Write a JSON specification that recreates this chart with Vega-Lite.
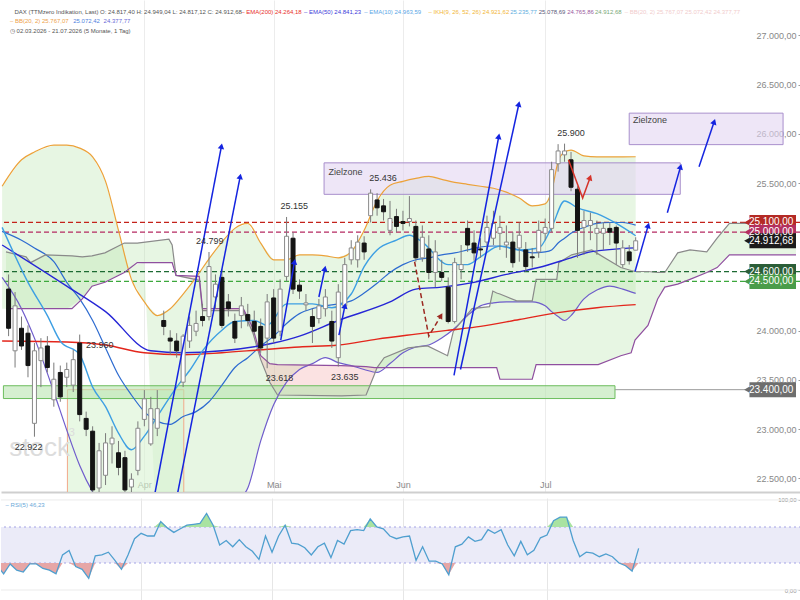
{
  "$schema": "https://vega.github.io/schema/vega-lite/v6.json",
  "padding": 0,
  "spacing": 4,
  "background": "#ffffff",
  "config": {
    "view": {"stroke": null},
    "font": "Liberation Sans",
    "locale": {"number": {"decimal": ",", "thousands": ".", "grouping": [3], "currency": ["", " €"]}}
  },
  "resolve": {"scale": {"x": "independent", "y": "independent"}},
  "datasets": {
    "candles": [
      {"i":1,"o":24422,"h":24571,"l":23944,"c":24024},
      {"i":2,"o":23795,"h":24392,"l":23625,"c":24252},
      {"i":3,"o":24024,"h":24143,"l":23804,"c":23844},
      {"i":4,"o":23974,"h":24053,"l":23526,"c":23645},
      {"i":5,"o":23058,"h":23874,"l":22922,"c":23795},
      {"i":6,"o":23695,"h":23924,"l":23426,"c":23824},
      {"i":7,"o":23844,"h":23944,"l":23575,"c":23625},
      {"i":8,"o":23297,"h":23675,"l":23227,"c":23506},
      {"i":9,"o":23575,"h":23645,"l":23277,"c":23327},
      {"i":10,"o":23526,"h":23675,"l":23426,"c":23605},
      {"i":11,"o":23446,"h":23805,"l":23376,"c":23705},
      {"i":12,"o":23874,"h":23960,"l":23078,"c":23147},
      {"i":13,"o":23108,"h":23177,"l":22928,"c":22998},
      {"i":14,"o":22978,"h":23028,"l":22331,"c":22381},
      {"i":15,"o":22401,"h":22859,"l":22331,"c":22779},
      {"i":16,"o":22530,"h":22958,"l":22431,"c":22859},
      {"i":17,"o":22849,"h":23028,"l":22650,"c":22908},
      {"i":18,"o":22759,"h":22879,"l":22530,"c":22610},
      {"i":19,"o":22709,"h":22779,"l":22331,"c":22381},
      {"i":20,"o":22411,"h":22550,"l":22331,"c":22490},
      {"i":21,"o":22580,"h":23078,"l":22530,"c":23008},
      {"i":22,"o":23098,"h":23396,"l":23028,"c":23307},
      {"i":23,"o":22849,"h":23327,"l":22830,"c":23207},
      {"i":24,"o":23008,"h":23396,"l":22928,"c":23207},
      {"i":25,"o":24103,"h":24203,"l":23954,"c":24043},
      {"i":26,"o":23924,"h":24004,"l":23755,"c":23894},
      {"i":27,"o":23894,"h":23974,"l":23725,"c":23795},
      {"i":28,"o":23476,"h":23964,"l":23426,"c":23944},
      {"i":29,"o":23894,"h":24143,"l":23824,"c":24053},
      {"i":30,"o":23994,"h":24203,"l":23944,"c":24073},
      {"i":31,"o":24143,"h":24272,"l":24043,"c":24103},
      {"i":32,"o":24143,"h":24799,"l":24103,"c":24651},
      {"i":33,"o":24342,"h":24571,"l":24223,"c":24472},
      {"i":34,"o":24541,"h":24621,"l":24024,"c":24053},
      {"i":35,"o":24292,"h":24372,"l":24143,"c":24223},
      {"i":36,"o":24093,"h":24173,"l":23874,"c":23924},
      {"i":37,"o":24153,"h":24342,"l":24024,"c":24252},
      {"i":38,"o":24163,"h":24272,"l":24043,"c":24103},
      {"i":39,"o":24093,"h":24203,"l":23954,"c":23994},
      {"i":40,"o":24043,"h":24123,"l":23775,"c":23824},
      {"i":41,"o":23924,"h":24372,"l":23618,"c":24292},
      {"i":42,"o":24332,"h":24422,"l":23874,"c":23924},
      {"i":43,"o":23994,"h":24521,"l":23944,"c":24422},
      {"i":44,"o":24551,"h":25155,"l":24501,"c":24959},
      {"i":45,"o":24939,"h":25000,"l":24372,"c":24422},
      {"i":46,"o":24462,"h":24521,"l":24322,"c":24402},
      {"i":47,"o":24262,"h":24372,"l":24203,"c":24282},
      {"i":48,"o":24143,"h":24223,"l":23874,"c":24043},
      {"i":49,"o":24123,"h":24322,"l":24073,"c":24252},
      {"i":50,"o":24223,"h":24422,"l":24143,"c":24342},
      {"i":51,"o":24093,"h":24203,"l":23824,"c":23894},
      {"i":52,"o":23725,"h":24472,"l":23635,"c":24392},
      {"i":53,"o":24252,"h":24740,"l":24223,"c":24671},
      {"i":54,"o":24720,"h":24919,"l":24671,"c":24840},
      {"i":55,"o":24720,"h":24969,"l":24641,"c":24900},
      {"i":56,"o":24890,"h":24959,"l":24720,"c":24800},
      {"i":57,"o":25168,"h":25436,"l":25099,"c":25397},
      {"i":58,"o":25328,"h":25397,"l":25168,"c":25248},
      {"i":59,"o":25268,"h":25338,"l":25119,"c":25208},
      {"i":60,"o":25019,"h":25318,"l":24969,"c":25139},
      {"i":61,"o":25159,"h":25238,"l":25000,"c":25059},
      {"i":62,"o":25109,"h":25218,"l":25019,"c":25089},
      {"i":63,"o":25109,"h":25367,"l":25059,"c":25139},
      {"i":64,"o":25059,"h":25119,"l":24700,"c":24740},
      {"i":65,"o":24740,"h":25069,"l":24700,"c":24949},
      {"i":66,"o":24830,"h":24969,"l":24521,"c":24591},
      {"i":67,"o":24591,"h":24919,"l":24442,"c":24800},
      {"i":68,"o":24591,"h":24720,"l":24501,"c":24541},
      {"i":69,"o":24442,"h":24541,"l":24073,"c":24093},
      {"i":70,"o":24093,"h":24740,"l":24073,"c":24691},
      {"i":71,"o":24621,"h":24870,"l":24521,"c":24671},
      {"i":72,"o":25039,"h":25119,"l":24800,"c":24870},
      {"i":73,"o":24890,"h":25019,"l":24710,"c":24790},
      {"i":74,"o":24830,"h":24939,"l":24740,"c":24820},
      {"i":75,"o":24900,"h":25168,"l":24820,"c":25049},
      {"i":76,"o":24939,"h":25218,"l":24870,"c":25089},
      {"i":77,"o":24989,"h":25168,"l":24820,"c":25049},
      {"i":78,"o":24870,"h":25069,"l":24740,"c":24900},
      {"i":79,"o":24900,"h":25000,"l":24641,"c":24691},
      {"i":80,"o":24840,"h":25099,"l":24700,"c":24969},
      {"i":81,"o":24820,"h":24900,"l":24601,"c":24651},
      {"i":82,"o":24750,"h":24840,"l":24641,"c":24740},
      {"i":83,"o":24800,"h":25119,"l":24740,"c":25019},
      {"i":84,"o":24989,"h":25139,"l":24919,"c":25049},
      {"i":85,"o":25039,"h":25716,"l":25000,"c":25636},
      {"i":86,"o":25696,"h":25895,"l":25616,"c":25826},
      {"i":87,"o":25786,"h":25900,"l":25716,"c":25826},
      {"i":88,"o":25736,"h":25816,"l":25417,"c":25457},
      {"i":89,"o":25437,"h":25467,"l":24740,"c":25019},
      {"i":90,"o":25049,"h":25218,"l":24770,"c":25119},
      {"i":91,"o":25069,"h":25199,"l":24919,"c":25119},
      {"i":92,"o":24989,"h":25119,"l":24770,"c":25039},
      {"i":93,"o":24989,"h":25099,"l":24820,"c":25039},
      {"i":94,"o":25039,"h":25099,"l":24870,"c":25000},
      {"i":95,"o":25049,"h":25069,"l":24671,"c":24890},
      {"i":96,"o":24671,"h":24919,"l":24641,"c":24840},
      {"i":97,"o":24800,"h":24870,"l":24671,"c":24710},
      {"i":98,"o":24817.40,"h":24949.04,"l":24817.12,"c":24912.68}
    ],
    "rsi": [
      {"i":0,"r":27},{"i":1,"r":18},{"i":2,"r":29},{"i":3,"r":22},{"i":4,"r":20},{"i":5,"r":29},{"i":6,"r":29},{"i":7,"r":24},{"i":8,"r":22},{"i":9,"r":18},
      {"i":10,"r":39},{"i":11,"r":44},{"i":12,"r":26},{"i":13,"r":23},{"i":14,"r":13},{"i":15,"r":38},{"i":16,"r":39},{"i":17,"r":42},{"i":18,"r":33},{"i":19,"r":23},
      {"i":20,"r":39},{"i":21,"r":57},{"i":22,"r":63},{"i":23,"r":60},{"i":24,"r":60},{"i":25,"r":76},{"i":26,"r":69},{"i":27,"r":64},{"i":28,"r":68},{"i":29,"r":72},
      {"i":30,"r":73},{"i":31,"r":74},{"i":32,"r":85},{"i":33,"r":72},{"i":34,"r":50},{"i":35,"r":55},{"i":36,"r":48},{"i":37,"r":56},{"i":38,"r":48},{"i":39,"r":43},
      {"i":40,"r":34},{"i":41,"r":60},{"i":42,"r":42},{"i":43,"r":60},{"i":44,"r":72},{"i":45,"r":52},{"i":46,"r":51},{"i":47,"r":47},{"i":48,"r":39},{"i":49,"r":48},
      {"i":50,"r":52},{"i":51,"r":36},{"i":52,"r":55},{"i":53,"r":51},{"i":54,"r":66},{"i":55,"r":67},{"i":56,"r":66},{"i":57,"r":79},{"i":58,"r":70},{"i":59,"r":68},
      {"i":60,"r":60},{"i":61,"r":57},{"i":62,"r":59},{"i":63,"r":60},{"i":64,"r":33},{"i":65,"r":48},{"i":66,"r":32},{"i":67,"r":32},{"i":68,"r":29},{"i":69,"r":17},
      {"i":70,"r":48},{"i":71,"r":51},{"i":72,"r":59},{"i":73,"r":54},{"i":74,"r":56},{"i":75,"r":67},{"i":76,"r":63},{"i":77,"r":67},{"i":78,"r":50},{"i":79,"r":38},
      {"i":80,"r":54},{"i":81,"r":39},{"i":82,"r":44},{"i":83,"r":58},{"i":84,"r":61},{"i":85,"r":77},{"i":86,"r":81},{"i":87,"r":81},{"i":88,"r":55},{"i":89,"r":37},
      {"i":90,"r":42},{"i":91,"r":41},{"i":92,"r":37},{"i":93,"r":40},{"i":94,"r":37},{"i":95,"r":30},{"i":96,"r":27},{"i":97,"r":21},{"i":98,"r":46.23}
    ],
    "ema": [
      {"s":"e200","i":0,"v":23894},{"s":"e200","i":10,"v":23884},{"s":"e200","i":16,"v":23854},{"s":"e200","i":22,"v":23775},{"s":"e200","i":28,"v":23755},{"s":"e200","i":34,"v":23775},{"s":"e200","i":40,"v":23805},{"s":"e200","i":46,"v":23834},{"s":"e200","i":52,"v":23854},{"s":"e200","i":58,"v":23914},{"s":"e200","i":64,"v":23964},{"s":"e200","i":69,"v":24004},{"s":"e200","i":74,"v":24043},{"s":"e200","i":80,"v":24113},{"s":"e200","i":86,"v":24183},{"s":"e200","i":92,"v":24233},{"s":"e200","i":98,"v":24264},
      {"s":"e50","i":0,"v":24870},{"s":"e50","i":10,"v":24452},{"s":"e50","i":16,"v":24193},{"s":"e50","i":23,"v":23795},{"s":"e50","i":28,"v":23775},{"s":"e50","i":34,"v":23795},{"s":"e50","i":42,"v":23874},{"s":"e50","i":46,"v":23944},{"s":"e50","i":52,"v":24103},{"s":"e50","i":60,"v":24292},{"s":"e50","i":64,"v":24422},{"s":"e50","i":68,"v":24442},{"s":"e50","i":73,"v":24491},{"s":"e50","i":78,"v":24571},{"s":"e50","i":83,"v":24641},{"s":"e50","i":88,"v":24740},{"s":"e50","i":91,"v":24800},{"s":"e50","i":98,"v":24841},
      {"s":"e10","i":0,"v":25049},{"s":"e10","i":4,"v":24491},{"s":"e10","i":7,"v":24153},{"s":"e10","i":9,"v":23894},{"s":"e10","i":12,"v":23755},{"s":"e10","i":14,"v":23426},{"s":"e10","i":16,"v":23227},{"s":"e10","i":18,"v":22958},{"s":"e10","i":20,"v":22789},{"s":"e10","i":22,"v":22928},{"s":"e10","i":24,"v":23127},{"s":"e10","i":27,"v":23426},{"s":"e10","i":29,"v":23595},{"s":"e10","i":31,"v":23795},{"s":"e10","i":34,"v":24004},{"s":"e10","i":36,"v":24093},{"s":"e10","i":39,"v":24103},{"s":"e10","i":41,"v":24053},{"s":"e10","i":44,"v":24272},{"s":"e10","i":48,"v":24272},{"s":"e10","i":51,"v":24233},{"s":"e10","i":54,"v":24372},{"s":"e10","i":56,"v":24651},{"s":"e10","i":58,"v":24820},{"s":"e10","i":61,"v":24919},{"s":"e10","i":63,"v":24969},{"s":"e10","i":65,"v":24900},{"s":"e10","i":69,"v":24671},{"s":"e10","i":72,"v":24671},{"s":"e10","i":74,"v":24750},{"s":"e10","i":77,"v":24860},{"s":"e10","i":80,"v":24820},{"s":"e10","i":83,"v":24840},{"s":"e10","i":85,"v":25049},{"s":"e10","i":87,"v":25318},{"s":"e10","i":89,"v":25248},{"s":"e10","i":92,"v":25188},{"s":"e10","i":95,"v":25089},{"s":"e10","i":98,"v":24964}
    ],
    "bb": [
      {"i":0,"u":25467,"m":25009,"l":24541,"fl":24223},
      {"i":3,"u":25736,"m":24919,"l":24223,"fl":24223},
      {"i":5,"u":25815,"m":24840,"l":23924,"fl":24223},
      {"i":8,"u":25885,"m":24700,"l":23377,"fl":24223},
      {"i":10,"u":25885,"m":24491,"l":22989,"fl":24223},
      {"i":12,"u":25855,"m":24322,"l":22630,"fl":24312},
      {"i":14,"u":25766,"m":24103,"l":22361,"fl":24452},
      {"i":16,"u":25517,"m":23824,"l":22172,"fl":24491},
      {"i":18,"u":25019,"m":23546,"l":21982,"fl":24561},
      {"i":20,"u":24521,"m":23346,"l":21883,"fl":24661},
      {"i":22,"u":24292,"m":23177,"l":21813,"fl":24691},
      {"i":24,"u":24153,"m":23078,"l":21734,"fl":21734},
      {"i":26,"u":24223,"m":23048,"l":21763,"fl":21763},
      {"i":28,"u":24372,"m":23127,"l":21803,"fl":21803},
      {"i":30,"u":24541,"m":23177,"l":21853,"fl":21853},
      {"i":32,"u":24730,"m":23277,"l":21923,"fl":21923},
      {"i":34,"u":24900,"m":23446,"l":22082,"fl":22082},
      {"i":36,"u":25039,"m":23625,"l":22251,"fl":22251},
      {"i":38,"u":25089,"m":23725,"l":22401,"fl":22401},
      {"i":40,"u":24890,"m":23844,"l":22879,"fl":22879},
      {"i":42,"u":24720,"m":23944,"l":23247,"fl":23247},
      {"i":44,"u":24720,"m":24073,"l":23476,"fl":23476},
      {"i":46,"u":24770,"m":24173,"l":23605,"fl":23605},
      {"i":48,"u":24770,"m":24223,"l":23665,"fl":23665},
      {"i":50,"u":24760,"m":24252,"l":23725,"fl":23725},
      {"i":52,"u":24740,"m":24272,"l":23675,"fl":23675},
      {"i":54,"u":24800,"m":24302,"l":23645,"fl":23645},
      {"i":56,"u":25019,"m":24382,"l":23605,"fl":23605},
      {"i":58,"u":25318,"m":24481,"l":23575,"fl":23575},
      {"i":60,"u":25477,"m":24591,"l":23665,"fl":23665},
      {"i":62,"u":25517,"m":24671,"l":23775,"fl":23775},
      {"i":64,"u":25547,"m":24720,"l":23834,"fl":23834},
      {"i":66,"u":25567,"m":24740,"l":23854,"fl":23854},
      {"i":68,"u":25537,"m":24770,"l":23924,"fl":23924},
      {"i":70,"u":25507,"m":24790,"l":24024,"fl":24024},
      {"i":72,"u":25487,"m":24820,"l":24153,"fl":24153},
      {"i":74,"u":25467,"m":24850,"l":24252,"fl":24252},
      {"i":76,"u":25447,"m":24860,"l":24282,"fl":24282},
      {"i":78,"u":25407,"m":24850,"l":24292,"fl":24292},
      {"i":80,"u":25348,"m":24820,"l":24292,"fl":24292},
      {"i":82,"u":25268,"m":24790,"l":24292,"fl":24292},
      {"i":84,"u":25288,"m":24800,"l":24252,"fl":24252},
      {"i":85,"u":25417,"m":24820,"l":24193,"fl":24193},
      {"i":86,"u":25716,"m":24890,"l":24143,"fl":24143},
      {"i":87,"u":25815,"m":24939,"l":24103,"fl":24103},
      {"i":88,"u":25835,"m":24989,"l":24153,"fl":24153},
      {"i":90,"u":25776,"m":25049,"l":24322,"fl":24322},
      {"i":92,"u":25766,"m":25089,"l":24412,"fl":24412},
      {"i":94,"u":25766,"m":25099,"l":24452,"fl":24452},
      {"i":96,"u":25766,"m":25099,"l":24422,"fl":24422},
      {"i":98,"u":25767,"m":25072,"l":24378,"fl":24378}
    ],
    "cloud": [
      {"s":"g1","c":"g","i":0.6,"a":24800,"b":24223},
      {"s":"g1","c":"g","i":3.7,"a":24750,"b":24223},
      {"s":"g1","c":"g","i":4.4,"a":24691,"b":24223},
      {"s":"g1","c":"g","i":6.7,"a":24770,"b":24223},
      {"s":"g1","c":"g","i":10.8,"a":24760,"b":24223},
      {"s":"g1","c":"g","i":12.4,"a":24750,"b":24322},
      {"s":"g1","c":"g","i":13.9,"a":24760,"b":24452},
      {"s":"g1","c":"g","i":15.9,"a":24790,"b":24491},
      {"s":"g1","c":"g","i":18.9,"a":24890,"b":24591},
      {"s":"g1","c":"g","i":20.9,"a":24890,"b":24691},
      {"s":"g1","c":"g","i":25.8,"a":24929,"b":24691},
      {"s":"g1","c":"g","i":26.3,"a":24870,"b":24691},
      {"s":"g1","c":"g","i":26.9,"a":24561,"b":24561},
      {"s":"r1","c":"r","i":26.9,"a":24561,"b":24561},
      {"s":"r1","c":"r","i":30.5,"a":24511,"b":24551},
      {"s":"r1","c":"r","i":31,"a":24203,"b":24223},
      {"s":"r1","c":"r","i":37.3,"a":24203,"b":24223},
      {"s":"r1","c":"r","i":38.8,"a":23974,"b":24024},
      {"s":"r1","c":"r","i":40,"a":23705,"b":23745},
      {"s":"r1","c":"r","i":41.4,"a":23476,"b":23665},
      {"s":"r1","c":"r","i":42.6,"a":23346,"b":23655},
      {"s":"r1","c":"r","i":52.5,"a":23336,"b":23645},
      {"s":"r1","c":"r","i":56.3,"a":23346,"b":23635},
      {"s":"r1","c":"r","i":57.6,"a":23556,"b":23625},
      {"s":"r1","c":"r","i":58,"a":23625,"b":23625},
      {"s":"g2","c":"g","i":58,"a":23625,"b":23625},
      {"s":"g2","c":"g","i":59.1,"a":23725,"b":23625},
      {"s":"g2","c":"g","i":62.8,"a":23824,"b":23625},
      {"s":"g2","c":"g","i":65.8,"a":23844,"b":23625},
      {"s":"g2","c":"g","i":68.9,"a":23745,"b":23625},
      {"s":"g2","c":"g","i":69.8,"a":23994,"b":23625},
      {"s":"g2","c":"g","i":72.7,"a":24223,"b":23625},
      {"s":"g2","c":"g","i":75.4,"a":24243,"b":23625},
      {"s":"g2","c":"g","i":75.9,"a":24402,"b":23625},
      {"s":"g2","c":"g","i":76.5,"a":24382,"b":23625},
      {"s":"g2","c":"g","i":77,"a":24372,"b":23506},
      {"s":"g2","c":"g","i":79.6,"a":24302,"b":23506},
      {"s":"g2","c":"g","i":82,"a":24302,"b":23506},
      {"s":"g2","c":"g","i":82.6,"a":24521,"b":23655},
      {"s":"g2","c":"g","i":85.8,"a":24521,"b":23655},
      {"s":"g2","c":"g","i":86.1,"a":24691,"b":23655},
      {"s":"g2","c":"g","i":88.1,"a":24770,"b":23655},
      {"s":"g2","c":"g","i":91.2,"a":24820,"b":23655},
      {"s":"g2","c":"g","i":92.2,"a":24780,"b":23655},
      {"s":"g2","c":"g","i":95.7,"a":24641,"b":23745},
      {"s":"g2","c":"g","i":97.3,"a":24611,"b":23775},
      {"s":"g2","c":"g","i":97.9,"a":24601,"b":23904},
      {"s":"g2","c":"g","i":99.9,"a":24601,"b":24053},
      {"s":"g2","c":"g","i":101.4,"a":24591,"b":24322},
      {"s":"g2","c":"g","i":102.5,"a":24591,"b":24442},
      {"s":"g2","c":"g","i":104.5,"a":24790,"b":24472},
      {"s":"g2","c":"g","i":106.4,"a":24820,"b":24521},
      {"s":"g2","c":"g","i":109,"a":24800,"b":24591},
      {"s":"g2","c":"g","i":110.6,"a":24939,"b":24641},
      {"s":"g2","c":"g","i":112.5,"a":25090,"b":24770},
      {"s":"g2","c":"g","i":122.8,"a":25090,"b":24770}
    ],
    "lv": [{"k":"a","v":25100},{"k":"b","v":25000},{"k":"c","v":24600},{"k":"d","v":24500}],
    "tags": [{"k":"a","v":25100},{"k":"b","v":25000},{"k":"e","v":24912.68},{"k":"c","v":24600},{"k":"d","v":24500},{"k":"f","v":23400}],
    "zones": [
      {"k":"box","i0":10.1,"i1":28.1,"p0":22000,"p1":23400},
      {"k":"sup","i0":0.2,"i1":94.8,"p0":23310,"p1":23440},
      {"k":"z1","i0":49.8,"i1":104.9,"p0":25385,"p1":25705},
      {"k":"z2","i0":97,"i1":120.8,"p0":25890,"p1":26210}
    ],
    "arrows": [
      {"a":"a1","k":"b","i":23.5,"p":22300},{"a":"a1","k":"b","i":33.9,"p":25865},
      {"a":"a2","k":"b","i":27,"p":22300},{"a":"a2","k":"b","i":36.8,"p":25557},
      {"a":"a3","k":"b","i":43.1,"p":23904},{"a":"a3","k":"b","i":45.2,"p":24691},
      {"a":"a4","k":"b","i":49,"p":24342},{"a":"a4","k":"b","i":49.9,"p":24621},
      {"a":"a5","k":"b","i":52.1,"p":23954},{"a":"a5","k":"b","i":53,"p":24243},
      {"a":"a6","k":"b","i":69.9,"p":23546},{"a":"a6","k":"b","i":76.8,"p":25965},
      {"a":"a7","k":"b","i":70.9,"p":23605},{"a":"a7","k":"b","i":79.9,"p":26293},
      {"a":"a8","k":"b","i":102.9,"p":25198},{"a":"a8","k":"b","i":104.9,"p":25656},
      {"a":"a9","k":"b","i":107.8,"p":25666},{"a":"a9","k":"b","i":110.1,"p":26114},
      {"a":"a10","k":"b","i":97.9,"p":24601},{"a":"a10","k":"b","i":99.9,"p":25059},
      {"a":"d1","k":"d","i":63.8,"p":24700},{"a":"d1","k":"d","i":66,"p":23944},{"a":"d1","k":"d","i":67.8,"p":24143},
      {"a":"r1","k":"r","i":87.6,"p":25736},{"a":"r1","k":"r","i":89.8,"p":25348},{"a":"r1","k":"r","i":90.9,"p":25547}
    ],
    "heads": [
      {"k":"b","i":33.9,"p":25865,"ang":10.8},
      {"k":"b","i":36.8,"p":25557,"ang":11.1},
      {"k":"b","i":45.2,"p":24691,"ang":10},
      {"k":"b","i":49.9,"p":24621,"ang":12},
      {"k":"b","i":53,"p":24243,"ang":11.7},
      {"k":"b","i":76.8,"p":25965,"ang":10.5},
      {"k":"b","i":79.9,"p":26293,"ang":12.3},
      {"k":"b","i":104.9,"p":25656,"ang":15.8},
      {"k":"b","i":110.1,"p":26114,"ang":18.4},
      {"k":"b","i":99.9,"p":25059,"ang":15.8},
      {"k":"d","i":67.8,"p":24143,"ang":31},
      {"k":"r","i":90.9,"p":25547,"ang":19.3}
    ],
    "hi": [{"i":32.1,"v":24799},{"i":45.2,"v":25155},{"i":58.9,"v":25436},{"i":88,"v":25900}],
    "lo": [{"i":4.1,"v":22922},{"i":15.1,"v":23960},{"i":42.9,"v":23618},{"i":53,"v":23635}]
  },
  "vconcat": [
    {
      "width": 800,
      "height": 492,
      "resolve": {"scale": {"color": "independent", "fill": "independent", "stroke": "independent", "angle": "independent"}},
      "layer": [
        {
          "data": {"name": "bb"},
          "mark": {"type": "area", "color": "#b5e3a8", "opacity": 0.32, "clip": true},
          "encoding": {
            "x": {"field": "i", "type": "quantitative",
              "scale": {"domain": [0.6, 122.8], "nice": false, "zero": false},
              "axis": {"values": [22, 42, 62, 84], "labelExpr": "datum.value == 22 ? 'Apr' : datum.value == 42 ? 'Mai' : datum.value == 62 ? 'Jun' : 'Jul'", "title": null, "grid": true, "gridColor": "#ececec", "ticks": false, "tickSize": 0, "labelPadding": -12, "labelFontSize": 9, "labelColor": "#888888", "domainColor": "#cfcfcf", "domainWidth": 2, "labelFlush": false}},
            "y": {"field": "u", "type": "quantitative",
              "scale": {"domain": [22411, 27309], "nice": false, "zero": false},
              "axis": {"orient": "left", "offset": -800, "values": [22500, 23000, 23500, 24000, 25500, 26000, 26500, 27000], "format": ",.2f", "title": null, "grid": false, "domain": false, "tickSize": 3, "tickColor": "#999999", "labelPadding": 2, "labelFontSize": 9, "labelColor": "#888888"}},
            "y2": {"field": "fl"}
          }
        },
        {
          "data": {"name": "cloud"},
          "mark": {"type": "area", "opacity": 0.32, "clip": true},
          "encoding": {
            "x": {"field": "i", "type": "quantitative"},
            "y": {"field": "a", "type": "quantitative"},
            "y2": {"field": "b"},
            "color": {"field": "c", "type": "nominal", "scale": {"domain": ["g", "r"], "range": ["#b5e3a8", "#f2a6a6"]}, "legend": null},
            "detail": {"field": "s"}
          }
        },
        {
          "data": {"name": "zones"},
          "mark": {"type": "rect", "fillOpacity": 0.6, "strokeWidth": 1, "clip": true},
          "encoding": {
            "x": {"field": "i0", "type": "quantitative"},
            "x2": {"field": "i1"},
            "y": {"field": "p0", "type": "quantitative"},
            "y2": {"field": "p1"},
            "fill": {"field": "k", "type": "nominal", "scale": {"domain": ["box", "sup", "z1", "z2"], "range": ["#d9f3d2", "#b9e4b0", "#e3d5f1", "#e3d5f1"]}, "legend": null},
            "stroke": {"field": "k", "type": "nominal", "scale": {"domain": ["box", "sup", "z1", "z2"], "range": ["#f2a98a", "#6cbd5d", "#a88fcc", "#a88fcc"]}, "legend": null}
          }
        },
        {
          "data": {"values": [{}]},
          "mark": {"type": "text", "text": "stock", "align": "left", "baseline": "alphabetic", "fontSize": 26, "color": "#dcdcdc"},
          "encoding": {"x": {"datum": 1.1}, "y": {"datum": 22729}}
        },
        {
          "data": {"values": [{}]},
          "mark": {"type": "text", "text": "3", "align": "left", "baseline": "alphabetic", "fontSize": 11, "color": "#dcdcdc"},
          "encoding": {"x": {"datum": 10.3}, "y": {"datum": 22930}}
        },
        {
          "data": {"name": "lv"},
          "mark": {"type": "rule", "strokeDash": [5, 3], "strokeWidth": 1.2},
          "encoding": {
            "y": {"field": "v", "type": "quantitative"},
            "color": {"field": "k", "type": "nominal", "scale": {"domain": ["a", "b", "c", "d"], "range": ["#c4221a", "#b52a62", "#1d6a33", "#3da83d"]}, "legend": null}
          }
        },
        {
          "data": {"values": [{}]},
          "mark": {"type": "rule", "color": "#9a9a9a", "strokeWidth": 1},
          "encoding": {"x": {"datum": 94.8}, "x2": {"datum": 122.8}, "y": {"datum": 23400}}
        },
        {
          "data": {"name": "bb"},
          "mark": {"type": "line", "color": "#eca23a", "strokeWidth": 1.2, "interpolate": "monotone", "clip": true},
          "encoding": {"x": {"field": "i", "type": "quantitative"}, "y": {"field": "u", "type": "quantitative"}}
        },
        {
          "data": {"name": "bb"},
          "mark": {"type": "line", "color": "#2d6bd0", "strokeWidth": 1.2, "interpolate": "monotone", "clip": true},
          "encoding": {"x": {"field": "i", "type": "quantitative"}, "y": {"field": "m", "type": "quantitative"}}
        },
        {
          "data": {"name": "bb"},
          "mark": {"type": "line", "color": "#6f5ccc", "strokeWidth": 1.2, "interpolate": "monotone", "clip": true},
          "encoding": {"x": {"field": "i", "type": "quantitative"}, "y": {"field": "l", "type": "quantitative"}}
        },
        {
          "data": {"name": "cloud"},
          "mark": {"type": "line", "color": "#8a8a8a", "strokeWidth": 1.2, "clip": true},
          "encoding": {"x": {"field": "i", "type": "quantitative"}, "y": {"field": "a", "type": "quantitative"}}
        },
        {
          "data": {"name": "cloud"},
          "mark": {"type": "line", "color": "#8f4f9f", "strokeWidth": 1.2, "clip": true},
          "encoding": {"x": {"field": "i", "type": "quantitative"}, "y": {"field": "b", "type": "quantitative"}}
        },
        {
          "data": {"name": "ema"},
          "mark": {"type": "line", "strokeWidth": 1.4, "interpolate": "monotone", "clip": true},
          "encoding": {
            "x": {"field": "i", "type": "quantitative"},
            "y": {"field": "v", "type": "quantitative"},
            "color": {"field": "s", "type": "nominal", "scale": {"domain": ["e200", "e50", "e10"], "range": ["#e3261c", "#2626d6", "#3d9fe3"]}, "legend": null}
          }
        },
        {
          "data": {"name": "candles"},
          "mark": {"type": "rule", "color": "#7a7a7a", "strokeWidth": 1, "clip": true},
          "encoding": {"x": {"field": "i", "type": "quantitative"}, "y": {"field": "l", "type": "quantitative"}, "y2": {"field": "h"}}
        },
        {
          "data": {"name": "candles"},
          "mark": {"type": "bar", "width": 4, "strokeWidth": 1, "clip": true},
          "encoding": {
            "x": {"field": "i", "type": "quantitative"},
            "y": {"field": "o", "type": "quantitative"},
            "y2": {"field": "c"},
            "fill": {"condition": {"test": "datum.c < datum.o", "value": "#141414"}, "value": "#ffffff"},
            "stroke": {"condition": {"test": "datum.c < datum.o", "value": "#141414"}, "value": "#8a8a8a"}
          }
        },
        {
          "data": {"name": "arrows"},
          "transform": [{"filter": "datum.k != 'd'"}],
          "mark": {"type": "line", "strokeWidth": 1.5, "clip": true},
          "encoding": {
            "x": {"field": "i", "type": "quantitative"},
            "y": {"field": "p", "type": "quantitative"},
            "detail": {"field": "a"},
            "color": {"field": "k", "type": "nominal", "scale": {"domain": ["b", "d", "r"], "range": ["#1424e0", "#9c2a22", "#d5342a"]}, "legend": null}
          }
        },
        {
          "data": {"name": "arrows"},
          "transform": [{"filter": "datum.k == 'd'"}],
          "mark": {"type": "line", "strokeWidth": 1.5, "strokeDash": [5, 3], "color": "#9c2a22", "clip": true},
          "encoding": {
            "x": {"field": "i", "type": "quantitative"},
            "y": {"field": "p", "type": "quantitative"},
            "detail": {"field": "a"}
          }
        },
        {
          "data": {"name": "heads"},
          "mark": {"type": "point", "shape": "triangle", "filled": true, "size": 42, "opacity": 1, "clip": true},
          "encoding": {
            "x": {"field": "i", "type": "quantitative"},
            "y": {"field": "p", "type": "quantitative"},
            "angle": {"field": "ang", "type": "quantitative", "scale": {"domain": [0, 360], "range": [0, 360]}},
            "color": {"field": "k", "type": "nominal", "scale": {"domain": ["b", "d", "r"], "range": ["#1424e0", "#9c2a22", "#d5342a"]}, "legend": null}
          }
        },
        {
          "data": {"name": "hi"},
          "mark": {"type": "text", "fontSize": 9, "color": "#333333", "baseline": "middle", "dy": -11},
          "encoding": {"x": {"field": "i", "type": "quantitative"}, "y": {"field": "v", "type": "quantitative"}, "text": {"field": "v", "type": "quantitative", "format": ",.0f"}}
        },
        {
          "data": {"name": "lo"},
          "mark": {"type": "text", "fontSize": 9, "color": "#333333", "baseline": "middle", "dy": 10},
          "encoding": {"x": {"field": "i", "type": "quantitative"}, "y": {"field": "v", "type": "quantitative"}, "text": {"field": "v", "type": "quantitative", "format": ",.0f"}}
        },
        {
          "data": {"values": [{}]},
          "mark": {"type": "text", "text": "Zielzone", "align": "left", "baseline": "middle", "fontSize": 9, "color": "#444444"},
          "encoding": {"x": {"datum": 50.5}, "y": {"datum": 25607}}
        },
        {
          "data": {"values": [{}]},
          "mark": {"type": "text", "text": "Zielzone", "align": "left", "baseline": "middle", "fontSize": 9, "color": "#444444"},
          "encoding": {"x": {"datum": 97.6}, "y": {"datum": 26144}}
        },
        {
          "data": {"name": "tags"},
          "mark": {"type": "bar", "height": 15},
          "encoding": {
            "x": {"datum": 115.6},
            "x2": {"datum": 122.8},
            "y": {"field": "v", "type": "quantitative"},
            "color": {"field": "k", "type": "nominal", "scale": {"domain": ["a", "b", "c", "d", "e", "f"], "range": ["#b42a25", "#b3305f", "#2b5e38", "#4a9c4a", "#1b1b1b", "#6e6e6e"]}, "legend": null}
          }
        },
        {
          "data": {"name": "tags"},
          "mark": {"type": "point", "shape": "triangle-left", "filled": true, "size": 60, "opacity": 1},
          "encoding": {
            "x": {"datum": 115.3},
            "y": {"field": "v", "type": "quantitative"},
            "color": {"field": "k", "type": "nominal", "scale": {"domain": ["a", "b", "c", "d", "e", "f"], "range": ["#b42a25", "#b3305f", "#2b5e38", "#4a9c4a", "#1b1b1b", "#6e6e6e"]}, "legend": null}
          }
        },
        {
          "data": {"name": "tags"},
          "mark": {"type": "text", "align": "right", "baseline": "middle", "fontSize": 10, "color": "#ffffff"},
          "encoding": {"x": {"datum": 122.4}, "y": {"field": "v", "type": "quantitative"}, "text": {"field": "v", "type": "quantitative", "format": ",.2f"}}
        },
        {
          "data": {"values": [{}]},
          "mark": {"type": "text", "text": "DAX (TTMzero Indikation, Last) O: 24.817,40 H: 24.949,04 L: 24.817,12 C: 24.912,68", "align": "left", "baseline": "middle", "fontSize": 6, "color": "#555555"},
          "encoding": {"x": {"datum": 1.9}, "y": {"datum": 27242}}
        },
        {
          "data": {"values": [{}]},
          "mark": {"type": "text", "text": "– EMA(200) 24.264,18", "align": "left", "baseline": "middle", "fontSize": 6, "color": "#e8302a"},
          "encoding": {"x": {"datum": 37.0}, "y": {"datum": 27242}}
        },
        {
          "data": {"values": [{}]},
          "mark": {"type": "text", "text": "– EMA(50) 24.841,23", "align": "left", "baseline": "middle", "fontSize": 6, "color": "#3b3bd9"},
          "encoding": {"x": {"datum": 46.7}, "y": {"datum": 27242}}
        },
        {
          "data": {"values": [{}]},
          "mark": {"type": "text", "text": "– EMA(10) 24.963,59", "align": "left", "baseline": "middle", "fontSize": 6, "color": "#5aa6e6"},
          "encoding": {"x": {"datum": 56.0}, "y": {"datum": 27242}}
        },
        {
          "data": {"values": [{}]},
          "mark": {"type": "text", "text": "– IKH(9, 26, 52, 26) 24.921,62", "align": "left", "baseline": "middle", "fontSize": 6, "color": "#f2b637"},
          "encoding": {"x": {"datum": 65.96}, "y": {"datum": 27242}}
        },
        {
          "data": {"values": [{}]},
          "mark": {"type": "text", "text": "25.235,77", "align": "left", "baseline": "middle", "fontSize": 6, "color": "#62aee0"},
          "encoding": {"x": {"datum": 78.6}, "y": {"datum": 27242}}
        },
        {
          "data": {"values": [{}]},
          "mark": {"type": "text", "text": "25.078,69", "align": "left", "baseline": "middle", "fontSize": 6, "color": "#5a5a78"},
          "encoding": {"x": {"datum": 83.0}, "y": {"datum": 27242}}
        },
        {
          "data": {"values": [{}]},
          "mark": {"type": "text", "text": "24.765,86", "align": "left", "baseline": "middle", "fontSize": 6, "color": "#9a5aa0"},
          "encoding": {"x": {"datum": 87.4}, "y": {"datum": 27242}}
        },
        {
          "data": {"values": [{}]},
          "mark": {"type": "text", "text": "24.912,68", "align": "left", "baseline": "middle", "fontSize": 6, "color": "#78a878"},
          "encoding": {"x": {"datum": 91.7}, "y": {"datum": 27242}}
        },
        {
          "data": {"values": [{}]},
          "mark": {"type": "text", "text": "– BB(20, 2) 25.767,07 25.072,42 24.377,77", "align": "left", "baseline": "middle", "fontSize": 6, "color": "#f1cccc"},
          "encoding": {"x": {"datum": 96.3}, "y": {"datum": 27242}}
        },
        {
          "data": {"values": [{}]},
          "mark": {"type": "text", "text": "– BB(20, 2) 25.767,07", "align": "left", "baseline": "middle", "fontSize": 6, "color": "#eea24a"},
          "encoding": {"x": {"datum": 1.21}, "y": {"datum": 27143}}
        },
        {
          "data": {"values": [{}]},
          "mark": {"type": "text", "text": "25.072,42", "align": "left", "baseline": "middle", "fontSize": 6, "color": "#4f7fe0"},
          "encoding": {"x": {"datum": 11.0}, "y": {"datum": 27143}}
        },
        {
          "data": {"values": [{}]},
          "mark": {"type": "text", "text": "24.377,77", "align": "left", "baseline": "middle", "fontSize": 6, "color": "#6a6ad6"},
          "encoding": {"x": {"datum": 15.7}, "y": {"datum": 27143}}
        },
        {
          "data": {"values": [{}]},
          "mark": {"type": "text", "text": "◷ 02.03.2026 - 21.07.2026 (5 Monate, 1 Tag)", "align": "left", "baseline": "middle", "fontSize": 6, "color": "#555555"},
          "encoding": {"x": {"datum": 1.21}, "y": {"datum": 27043}}
        }
      ]
    },
    {
      "width": 800,
      "height": 104,
      "resolve": {"scale": {"y": "independent"}, "axis": {"y": "independent"}},
      "layer": [
        {
          "data": {"values": [{"lv": 0}, {"lv": 50}, {"lv": 100}]},
          "mark": {"type": "rule", "color": "#ebebeb", "strokeWidth": 1, "clip": true},
          "encoding": {
            "x": {"datum": 0.6, "type": "quantitative",
              "scale": {"domain": [0.6, 122.8], "nice": false, "zero": false},
              "axis": {"values": [22, 42, 62, 84], "labels": false, "title": null, "grid": true, "gridColor": "#e6e6e6", "ticks": false, "domain": false}},
            "x2": {"datum": 122.8},
            "y": {"field": "lv", "type": "quantitative",
              "scale": {"domain": [-13.3, 102.2], "nice": false, "zero": false},
              "axis": {"orient": "left", "offset": -800, "values": [0, 50, 100], "format": ".2f", "title": null, "grid": false, "domain": false, "tickSize": 3, "tickColor": "#aaaaaa", "labelFontSize": 6, "labelColor": "#999999", "labelPadding": 2}}
          }
        },
        {
          "data": {"values": [{}]},
          "mark": {"type": "rect", "color": "#ebebf8", "clip": true},
          "encoding": {
            "x": {"datum": 0.6},
            "x2": {"datum": 122.8},
            "y": {"datum": 30, "type": "quantitative", "scale": {"domain": [-13.3, 102.2], "nice": false, "zero": false}, "axis": null},
            "y2": {"datum": 70}
          }
        },
        {
          "data": {"values": [{"lv": 30}, {"lv": 70}]},
          "mark": {"type": "rule", "color": "#a3a3e6", "strokeDash": [2, 3], "strokeWidth": 1.2},
          "encoding": {
            "y": {"field": "lv", "type": "quantitative", "scale": {"domain": [-13.3, 102.2], "nice": false, "zero": false}, "axis": null}
          }
        },
        {
          "data": {"name": "rsi"},
          "mark": {"type": "area", "color": "#a9e3a1", "clip": true},
          "encoding": {
            "x": {"field": "i", "type": "quantitative"},
            "y": {"field": "r", "type": "quantitative", "scale": {"domain": [70, 102.2], "range": [29, 0], "clamp": true, "nice": false, "zero": false}, "axis": null},
            "y2": {"datum": 70}
          }
        },
        {
          "data": {"name": "rsi"},
          "mark": {"type": "area", "color": "#e6a6a6", "clip": true},
          "encoding": {
            "x": {"field": "i", "type": "quantitative"},
            "y": {"field": "r", "type": "quantitative", "scale": {"domain": [-13.3, 30], "range": [104, 65], "clamp": true, "nice": false, "zero": false}, "axis": null},
            "y2": {"datum": 30}
          }
        },
        {
          "data": {"name": "rsi"},
          "mark": {"type": "line", "color": "#4f9fcf", "strokeWidth": 1.3, "clip": true},
          "encoding": {
            "x": {"field": "i", "type": "quantitative"},
            "y": {"field": "r", "type": "quantitative", "scale": {"domain": [-13.3, 102.2], "nice": false, "zero": false}, "axis": null}
          }
        },
        {
          "data": {"values": [{}]},
          "mark": {"type": "text", "text": "– RSI(5) 46,23", "align": "left", "baseline": "middle", "fontSize": 6, "color": "#6aa8d8"},
          "encoding": {
            "x": {"datum": 1.3},
            "y": {"datum": 94.4, "type": "quantitative", "scale": {"domain": [-13.3, 102.2], "nice": false, "zero": false}, "axis": null}
          }
        }
      ]
    }
  ]
}
